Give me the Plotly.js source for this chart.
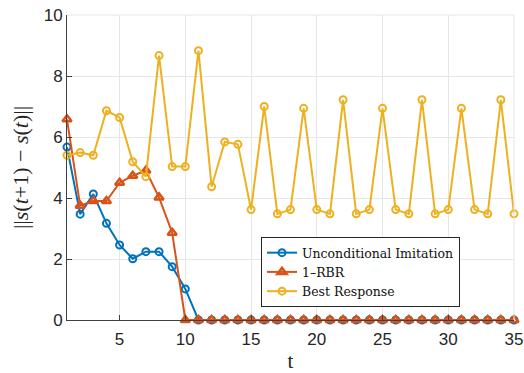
<!DOCTYPE html>
<html>
<head>
<meta charset="utf-8">
<script src="https://cdn.plot.ly/plotly-3.0.1.min.js"></script>
<style>html,body{margin:0;padding:0;background:#fff;}#chart{width:524px;height:373px;}</style>
</head>
<body>
<div id="chart"></div>
<script>
var t = [];
for (var i = 1; i <= 35; i++) t.push(i);

var unconditionalImitation = [5.67, 3.47, 4.13, 3.17, 2.46, 2.01, 2.24, 2.24, 1.75, 1.02,
  0, 0, 0, 0, 0, 0, 0, 0, 0, 0, 0, 0, 0, 0, 0, 0, 0, 0, 0, 0, 0, 0, 0, 0, 0];
var rbr = [6.58, 3.75, 3.90, 3.90, 4.50, 4.73, 4.90, 4.02, 2.86, 0,
  0, 0, 0, 0, 0, 0, 0, 0, 0, 0, 0, 0, 0, 0, 0, 0, 0, 0, 0, 0, 0, 0, 0, 0, 0];
var bestResponse = [5.40, 5.49, 5.40, 6.86, 6.64, 5.19, 4.70, 8.67, 5.03, 5.03,
  8.83, 4.37, 5.84, 5.76, 3.62, 7.00, 3.48, 3.62, 6.94, 3.62,
  3.48, 7.22, 3.48, 3.62, 6.94, 3.62, 3.48, 7.22, 3.48, 3.62,
  6.94, 3.62, 3.48, 7.22, 3.48];

var names = ['Unconditional Imitation', '1\u2013RBR', 'Best Response'];
var colors = ['#0072BD', '#D95319', '#EDB120'];

var traces = [
  {x: t, y: unconditionalImitation, name: names[0], mode: 'lines+markers', cliponaxis: false,
   line: {color: colors[0], width: 2},
   marker: {symbol: 'circle-open', size: 7, color: colors[0], line: {width: 2}}},
  {x: t, y: rbr, name: names[1], mode: 'lines+markers', cliponaxis: false,
   line: {color: colors[1], width: 2},
   marker: {symbol: 'triangle-up-open', size: 8, color: colors[1], line: {width: 2.5}}},
  {x: t, y: bestResponse, name: names[2], mode: 'lines+markers', cliponaxis: false,
   line: {color: colors[2], width: 2},
   marker: {symbol: 'circle-open', size: 7, color: colors[2], line: {width: 2}}}
];

var axisFont = {family: 'Liberation Sans, Arial, sans-serif', size: 17, color: '#262626'};
var serif = 'Liberation Serif, Times New Roman, serif';

var layout = {
  width: 524, height: 373,
  margin: {l: 67, r: 10, t: 15, b: 53},
  paper_bgcolor: '#fff', plot_bgcolor: '#fff',
  showlegend: true,
  legend: {x: 0.434, y: 0.272, xanchor: 'left', yanchor: 'top',
    bgcolor: '#fff', bordercolor: '#262626', borderwidth: 1,
    font: {family: 'DejaVu Serif, serif', size: 12.5, color: '#111'},
    tracegroupgap: 0, itemwidth: 30},
  xaxis: {range: [1, 35], tickvals: [5, 10, 15, 20, 25, 30, 35],
    showgrid: true, gridcolor: '#e6e6e6', gridwidth: 1,
    zeroline: false, showline: true, linecolor: '#404040', linewidth: 1,
    ticks: 'inside', ticklen: 5, tickcolor: '#404040',
    tickfont: axisFont, ticklabelstandoff: 4,
    title: {text: 't', font: {family: serif, size: 21, color: '#262626'}, standoff: 15}},
  yaxis: {range: [0, 10], tickvals: [0, 2, 4, 6, 8, 10],
    showgrid: true, gridcolor: '#e6e6e6', gridwidth: 1,
    zeroline: false, showline: true, linecolor: '#404040', linewidth: 1,
    ticks: 'inside', ticklen: 5, tickcolor: '#404040',
    tickfont: axisFont,
    title: {text: '||<i>s</i>(<i>t</i>+1) \u2212 <i>s</i>(<i>t</i>)||', font: {family: serif, size: 22, color: '#262626'}, standoff: 8}},
  shapes: [
    {type: 'line', xref: 'paper', yref: 'paper', x0: 0, x1: 1, y0: 1, y1: 1, line: {color: '#e6e6e6', width: 1}},
    {type: 'line', xref: 'paper', yref: 'paper', x0: 1, x1: 1, y0: 0, y1: 1, line: {color: '#e6e6e6', width: 1}}
  ]
};

Plotly.newPlot('chart', traces, layout, {displayModeBar: false, staticPlot: true});
</script>
</body>
</html>
